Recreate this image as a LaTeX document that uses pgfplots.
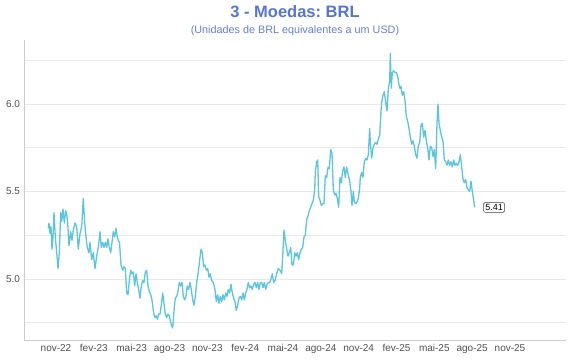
\documentclass[border=0pt]{standalone}
\usepackage{fontspec}
\setmainfont{Liberation Sans}
\usepackage{pgfplots}
\pgfplotsset{compat=1.18}
\frenchspacing
\definecolor{titleblue}{RGB}{86,116,208}
\definecolor{subblue}{RGB}{100,128,212}
\definecolor{linecyan}{RGB}{91,197,223}
\definecolor{ticktext}{RGB}{80,80,80}
\definecolor{gridc}{RGB}{232,232,232}
\definecolor{axisc}{RGB}{205,205,205}
\begin{document}
\begin{tikzpicture}
\path[use as bounding box] (0,0) rectangle (570pt,360pt);
\node[anchor=base, text=titleblue, font=\fontsize{16.5}{18}\selectfont\bfseries] at (295pt,343pt) {3 - Moedas: BRL};
\node[anchor=base, text=subblue, font=\fontsize{10.8}{12}\selectfont] at (295pt,327pt) {(Unidades de BRL equivalentes a um USD)};
\begin{axis}[
  at={(24pt,20pt)}, anchor=south west,
  scale only axis, width=542pt, height=300pt,
  xmin=24, xmax=566, ymin=4.651, ymax=6.366,
  axis x line=bottom, axis y line=left,
  axis line style={-, draw=axisc, line width=0.8pt},
  xtick={56,93.83,131.67,169.5,207.33,245.17,283,320.83,358.67,396.5,434.33,472.17,510},
  xticklabels={nov-22,fev-23,mai-23,ago-23,nov-23,fev-24,mai-24,ago-24,nov-24,fev-25,mai-25,ago-25,nov-25},
  ytick={5,5.5,6},
  minor ytick={4.75,5.25,5.75,6.25},
  /pgf/number format/fixed,
  /pgf/number format/fixed zerofill,
  /pgf/number format/precision=1,
  /pgf/number format/assume math mode=true,
  ymajorgrids, yminorgrids,
  major grid style={draw=gridc, line width=0.8pt},
  minor grid style={draw=gridc, line width=0.8pt},
  major tick length=0pt, minor tick length=0pt,
  tick label style={font=\fontsize{10}{12}\selectfont, text=ticktext},
  xticklabel style={yshift=-1pt},
  yticklabel style={xshift=-0.5pt},
  clip=false,
]
\addplot[color=linecyan, line width=1.3pt, line join=round] coordinates {
(48.3,5.29)(49,5.32)(50,5.26)(51,5.30)(52,5.17)(53,5.24)(54,5.38)(55.3,5.24)(56.7,5.15)(58,5.06)
(59.3,5.15)(60.7,5.38)(61.7,5.33)(63,5.40)(64.3,5.32)(65.7,5.39)(66.7,5.37)(67.7,5.32)(69,5.19)(70.7,5.27)
(72,5.22)(73.3,5.28)(75,5.32)(76.7,5.30)(78.3,5.17)(80,5.26)(81.7,5.30)(83.3,5.46)(84.7,5.32)(86,5.24)
(87.3,5.18)(89,5.15)(90,5.21)(91.7,5.11)(93.3,5.15)(95,5.06)(96.7,5.13)(98.3,5.18)(100,5.27)(101.3,5.18)
(102.7,5.21)(104,5.18)(105.3,5.21)(106.7,5.18)(108,5.23)(109.3,5.18)(110.7,5.15)(112,5.21)(113.3,5.27)(114.7,5.24)
(116,5.29)(117.3,5.24)(118.3,5.22)(119.5,5.21)(121,5.08)(122.7,5.05)(124,5.07)(125.3,5.06)(126.7,4.92)(128,4.91)
(129.3,4.99)(130.7,5.05)(132,5.03)(133.3,5.04)(134.7,4.96)(136,5.03)(137.3,4.98)(138.7,4.94)(140,4.89)(141.3,4.96)
(142.7,4.99)(144,4.98)(145.3,5.04)(146.7,5.05)(148,4.96)(149.3,4.93)(150.7,4.91)(152,4.88)(153.3,4.82)(154.7,4.78)
(156,4.79)(157.3,4.77)(158.7,4.80)(160,4.80)(161.3,4.85)(162.7,4.92)(164,4.86)(165.3,4.80)(166.7,4.78)(168,4.80)
(169.3,4.79)(170.7,4.75)(172,4.73)(172.7,4.72)(174,4.82)(175.3,4.89)(176.7,4.90)(178,4.93)(179.3,4.98)(180.7,4.96)
(182,4.98)(183.3,4.90)(184.7,4.88)(186,4.90)(187.3,4.96)(188.7,4.94)(190,4.98)(191.3,4.94)(192.7,4.88)(194,4.85)
(195.3,4.90)(196.7,4.98)(198.3,5.04)(199.7,5.11)(201,5.17)(202.3,5.15)(203.7,5.07)(205,5.08)(206.3,5.05)(207.7,5.06)
(209,5.01)(210.3,5.03)(211.7,4.99)(213.3,4.98)(215,4.94)(216.3,4.87)(217.7,4.91)(219,4.86)(220.3,4.90)(221.7,4.87)
(223,4.91)(224.3,4.88)(225.7,4.92)(227,4.90)(228.3,4.94)(229.7,4.92)(231,4.97)(232.3,4.92)(233.7,4.89)(235,4.87)
(236.3,4.82)(237.7,4.85)(239,4.89)(240.3,4.90)(241.7,4.88)(243,4.92)(244.3,4.88)(245.7,4.92)(247,4.94)(248.3,4.98)
(249.7,4.95)(251,4.96)(252.3,4.94)(253.7,4.97)(255,4.98)(256.3,4.95)(257.7,4.98)(259,4.94)(260.3,4.98)(261.7,4.98)
(263,4.95)(264.3,4.98)(265.7,4.94)(267,4.97)(268.3,4.98)(269.7,4.98)(271,5.00)(272.3,5.03)(273.7,4.98)(275,4.99)
(276.7,5.03)(278.3,5.06)(280,5.05)(281.7,5.03)(282.7,5.13)(284,5.28)(285.3,5.22)(286.7,5.17)(288,5.13)(289.3,5.15)
(290.7,5.18)(292,5.08)(293.3,5.08)(294.7,5.15)(296,5.13)(297.3,5.15)(298.7,5.11)(300,5.15)(301.3,5.17)(302.7,5.18)
(304,5.24)(305.3,5.25)(306.7,5.34)(308,5.36)(309.3,5.39)(310.7,5.41)(312,5.43)(313.3,5.45)(314.7,5.51)(315.3,5.61)
(316.7,5.67)(317.7,5.68)(318.7,5.47)(320,5.45)(321.3,5.42)(322.7,5.43)(324,5.43)(325.3,5.59)(326.7,5.58)(328,5.64)
(329.3,5.63)(330.7,5.74)(332,5.72)(333.3,5.51)(334.7,5.48)(336,5.49)(337.3,5.46)(338.7,5.41)(340,5.58)(341.3,5.55)
(342.7,5.62)(344,5.64)(345.3,5.58)(346.7,5.64)(348,5.60)(349.7,5.56)(351,5.50)(352,5.42)(353.3,5.50)(354.3,5.44)
(355.7,5.43)(357,5.44)(358.3,5.46)(359.7,5.52)(360.3,5.58)(361.7,5.61)(363,5.58)(364.3,5.67)(365.7,5.69)(367,5.68)
(368.3,5.71)(369.7,5.86)(370.3,5.78)(371.7,5.69)(373,5.75)(374.3,5.77)(375.7,5.78)(377,5.77)(378.3,5.80)(379.7,5.82)
(381,5.96)(381.7,6.01)(383,6.05)(384.3,6.07)(385.7,6.01)(387,5.96)(388.3,6.09)(389.7,6.13)(390.3,6.29)(391.3,6.09)
(392.3,6.18)(393.7,6.19)(395,6.18)(396.3,6.18)(397.7,6.16)(399,6.11)(400,6.09)(401,6.10)(402.3,6.05)(403.7,6.07)
(405,6.02)(406.3,5.93)(407.7,5.90)(409,5.86)(410.3,5.81)(411.7,5.77)(413,5.79)(414.3,5.76)(415.7,5.71)(417,5.69)
(418.3,5.76)(419.7,5.78)(421,5.88)(422.3,5.89)(423.7,5.81)(425,5.85)(426.3,5.79)(427.7,5.75)(429,5.68)(430.3,5.76)
(431.7,5.75)(433,5.70)(434.3,5.74)(435.7,5.63)(437,5.89)(438,6.00)(439,5.89)(440.3,5.85)(441.7,5.81)(443,5.79)
(444.3,5.68)(445.7,5.67)(447,5.65)(448.3,5.68)(449.7,5.65)(451,5.67)(452.3,5.64)(453.7,5.68)(455,5.65)(456.3,5.66)
(457.7,5.65)(459,5.67)(460.3,5.71)(461.7,5.64)(463,5.57)(464.3,5.55)(465.7,5.57)(467,5.52)(468.3,5.51)(469.7,5.50)
(471,5.56)(472.3,5.50)(473.7,5.45)(474.7,5.41)
};
\node[draw=black!75, fill=white, rounded corners=1.5pt, line width=0.5pt, anchor=west, inner sep=1.8pt,
      font=\fontsize{9}{10}\selectfont] at (axis cs:474.7,5.409) [xshift=8.5pt] {5.41};
\end{axis}
\end{tikzpicture}
\end{document}
